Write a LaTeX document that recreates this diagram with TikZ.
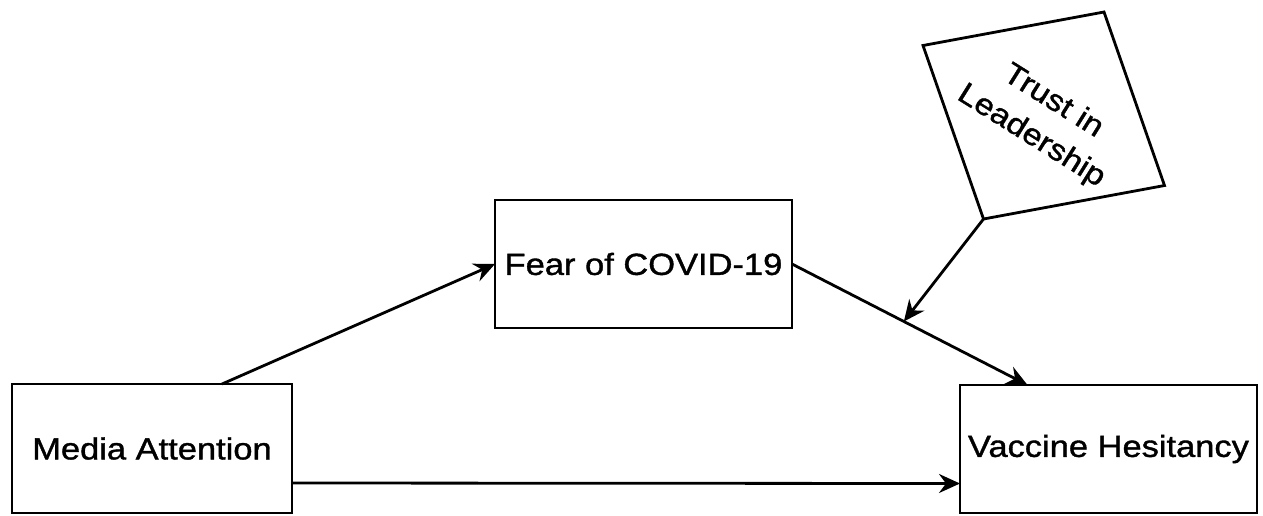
\documentclass[tikz,border=0pt]{standalone}
\usepackage{fontspec}
\setmainfont{Liberation Sans}
\newfontfamily\labfont[FakeStretch=1.13,FakeBold=1.2]{Liberation Sans}
\usetikzlibrary{arrows.meta}
\begin{document}
\begin{tikzpicture}[x=1pt,y=-1pt,
  box/.style={draw, line width=2.8pt, inner sep=0pt, outer sep=0pt, font=\labfont\fontsize{30.5}{38}\selectfont},
  arr/.style={line width=2.8pt, -{Stealth[length=21pt,width=19pt,inset=7pt]}},
  trustbox/.style={draw, line width=2.8pt, minimum size=180pt, inner sep=0pt, outer sep=0pt, cm={1.0056,0.1861,-0.3361,0.9639,(0,0)}},
  trusttext/.style={rotate=-32, align=center, inner sep=0pt, font=\labfont\fontsize{30}{41}\selectfont}]
\useasboundingbox (0,0) rectangle (1263,515);
\fill[white] (0,0) rectangle (1263,515);
\node[box, minimum width=280pt, minimum height=129pt] (media) at (152,448.5) {Media Attention};
\node[box, minimum width=297pt, minimum height=128pt] (fear) at (643.5,264) {Fear of COVID-19};
\node[box, minimum width=297pt, minimum height=128pt] (vac) at (1108.5,449) {Vaccine Hesitancy};
\node[trustbox] (trust) at (1043.75,115.5) {};
\node[trusttext] (trustlabel) at (1042,119) {Trust in\\Leadership};
\draw[arr] ([xshift=70pt]media.north) -- (fear.west);
\path (fear.east) -- coordinate[pos=0.475] (m) ([xshift=-81pt]vac.north);
\draw[arr] (fear.east) -- ([xshift=-81pt]vac.north);
\draw[arr] (trust.south west) -- (m);
\draw[arr] ([yshift=-34.5pt]media.east) -- ([yshift=-34.5pt]vac.west);
\end{tikzpicture}
\end{document}
